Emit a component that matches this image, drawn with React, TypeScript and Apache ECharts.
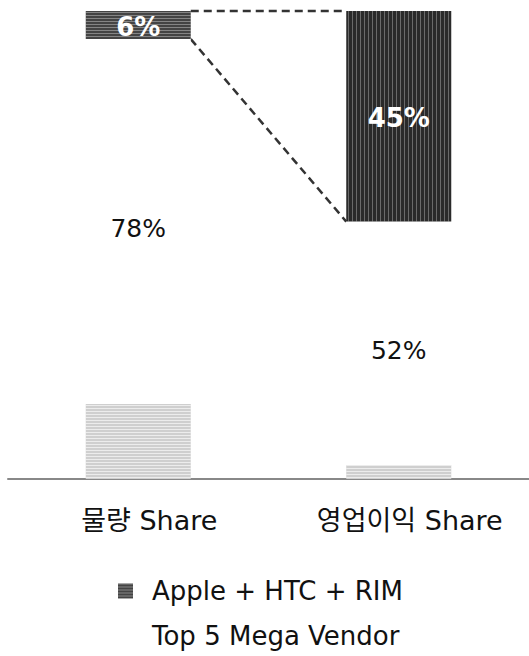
import React, { useEffect, useRef } from "react";
import * as echarts from "echarts";

const categories = ["물량 Share", "영업이익 Share"];
const otherShare = [16, 3];
const top5Share = [78, 52];
const ahrShare = [6, 45];
const seriesNames = ["Apple + HTC + RIM", "Top 5 Mega Vendor"];

const FONT = "DejaVu Sans, Verdana, Noto Sans CJK KR, sans-serif";

export default function App() {
  const ref = useRef<HTMLDivElement>(null);
  useEffect(() => {
    if (!ref.current) return;
    const chart = echarts.init(ref.current, null, { renderer: "svg" });
    const barWidth = 105;
    const totals = categories.map((_, i) => otherShare[i] + top5Share[i] + ahrShare[i]);
    const hStripe = {
      symbol: "rect",
      symbolSize: 1,
      color: "rgba(255,255,255,0.35)",
      dashArrayX: [1, 0],
      dashArrayY: [1, 2],
      rotation: 0,
    };
    const vStripe = {
      symbol: "rect",
      symbolSize: 1,
      color: "rgba(255,255,255,0.3)",
      dashArrayX: [1, 3],
      dashArrayY: [1, 0],
      rotation: 0,
    };
    chart.setOption({
      animation: false,
      grid: { left: 8, right: -3, top: 11, bottom: 177 },
      xAxis: {
        type: "category",
        data: categories,
        axisLine: { lineStyle: { color: "#888", width: 2 } },
        axisTick: { show: false },
        axisLabel: {
          fontSize: 27,
          color: "#111",
          fontFamily: FONT,
          margin: 28,
          padding: [0, 0, 0, 22],
        },
      },
      yAxis: { type: "value", min: 0, max: 100, show: false },
      legend: {
        data: seriesNames.map((n) => ({ name: n, icon: "rect" })),
        orient: "vertical",
        left: 113,
        top: 573,
        itemWidth: 15,
        itemHeight: 15,
        itemGap: 19,
        selectedMode: false,
        textStyle: { fontSize: 26, color: "#111", fontFamily: FONT, padding: [0, 0, 0, 14] },
      },
      series: [
        {
          name: "기타",
          type: "bar",
          stack: "s",
          barWidth,
          data: otherShare,
          itemStyle: {
            color: "#cfcfcf",
            decal: { ...hStripe, color: "rgba(255,255,255,0.6)", dashArrayY: [1, 2] },
          },
        },
        {
          name: seriesNames[1],
          type: "bar",
          stack: "s",
          barWidth,
          data: top5Share,
          itemStyle: { color: "#ffffff" },
          label: {
            show: true,
            position: "inside",
            formatter: "{c}%",
            fontSize: 25,
            color: "#111",
            fontFamily: FONT,
            offset: [0, 7],
          },
        },
        {
          name: seriesNames[0],
          type: "bar",
          stack: "s",
          barWidth,
          data: ahrShare.map((v, i) =>
            i === 1 ? { value: v, itemStyle: { color: "#2a2a2a", decal: vStripe } } : v
          ),
          itemStyle: { color: "#444444", decal: hStripe },
          label: {
            show: true,
            position: "inside",
            formatter: "{c}%",
            fontSize: 26,
            fontWeight: "bold",
            color: "#fff",
            fontFamily: FONT,
            offset: [0, 2],
          },
        },
        {
          name: "connector",
          type: "custom",
          silent: true,
          data: [[0]],
          renderItem: (params: any, api: any) => {
            const aTop = api.coord([0, totals[0]]);
            const aBot = api.coord([0, totals[0] - ahrShare[0]]);
            const bTop = api.coord([1, totals[1]]);
            const bBot = api.coord([1, totals[1] - ahrShare[1]]);
            const hw = barWidth / 2;
            const style = { stroke: "#333", lineWidth: 2.5, lineDash: [8, 5] };
            return {
              type: "group",
              children: [
                {
                  type: "line",
                  shape: { x1: aTop[0] + hw, y1: aTop[1], x2: bTop[0] - hw, y2: bTop[1] },
                  style,
                },
                {
                  type: "line",
                  shape: { x1: aBot[0] + hw, y1: aBot[1], x2: bBot[0] - hw, y2: bBot[1] },
                  style,
                },
              ],
            };
          },
        },
      ],
    });
    return () => chart.dispose();
  }, []);
  return (
    <div
      ref={ref}
      style={{ position: "absolute", left: 0, top: 0, width: 529, height: 656 }}
    />
  );
}
